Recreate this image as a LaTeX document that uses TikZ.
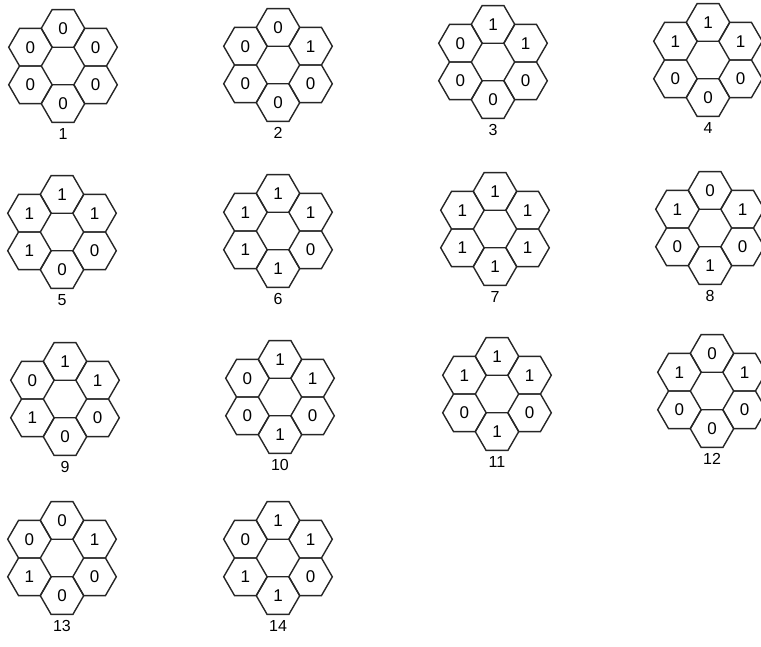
\documentclass[tikz,border=0pt]{standalone}
\usepackage{fontspec}
\setmainfont{Liberation Sans}
\usetikzlibrary{shapes.geometric}
\tikzset{
  hexcell/.style={draw=black!85, line width=1.4pt, regular polygon, regular polygon sides=6,
    minimum size=43.5pt, inner sep=0pt, font=\fontsize{17}{17}\selectfont},
  ringlabel/.style={inner sep=0pt, font=\fontsize{16}{16}\selectfont}
}
\newcommand\hexring[5]{%
  \foreach \v [count=\i] in {#5} {
    \pgfmathsetmacro\ang{-90+(\i-1)*60}
    \path (#2,#3) ++(\ang:37.6) node[hexcell] (#1-\i) {\v};
  }
  \node[ringlabel] (#1-lab) at (#2,#3+68) {#4};
}
\begin{document}
\begin{tikzpicture}[x=1pt,y=-1pt]
\useasboundingbox (0,0) rectangle (761,646);
% order: top, upper right, lower right, bottom, lower left, upper left
\hexring{r1}{63}{66}{1}{0,0,0,0,0,0}
\hexring{r2}{278}{65}{2}{0,1,0,0,0,0}
\hexring{r3}{493}{62}{3}{1,1,0,0,0,0}
\hexring{r4}{708}{60}{4}{1,1,0,0,0,1}
\hexring{r5}{62}{232}{5}{1,1,0,0,1,1}
\hexring{r6}{278}{231}{6}{1,1,0,1,1,1}
\hexring{r7}{495}{229}{7}{1,1,1,1,1,1}
\hexring{r8}{710}{228}{8}{0,1,0,1,0,1}
\hexring{r9}{65}{399}{9}{1,1,0,0,1,0}
\hexring{r10}{280}{397}{10}{1,1,0,1,0,0}
\hexring{r11}{497}{394}{11}{1,1,0,1,0,1}
\hexring{r12}{712}{391}{12}{0,1,0,0,0,1}
\hexring{r13}{62}{558}{13}{0,1,0,0,1,0}
\hexring{r14}{278}{558}{14}{1,1,0,1,1,0}
\end{tikzpicture}
\end{document}
